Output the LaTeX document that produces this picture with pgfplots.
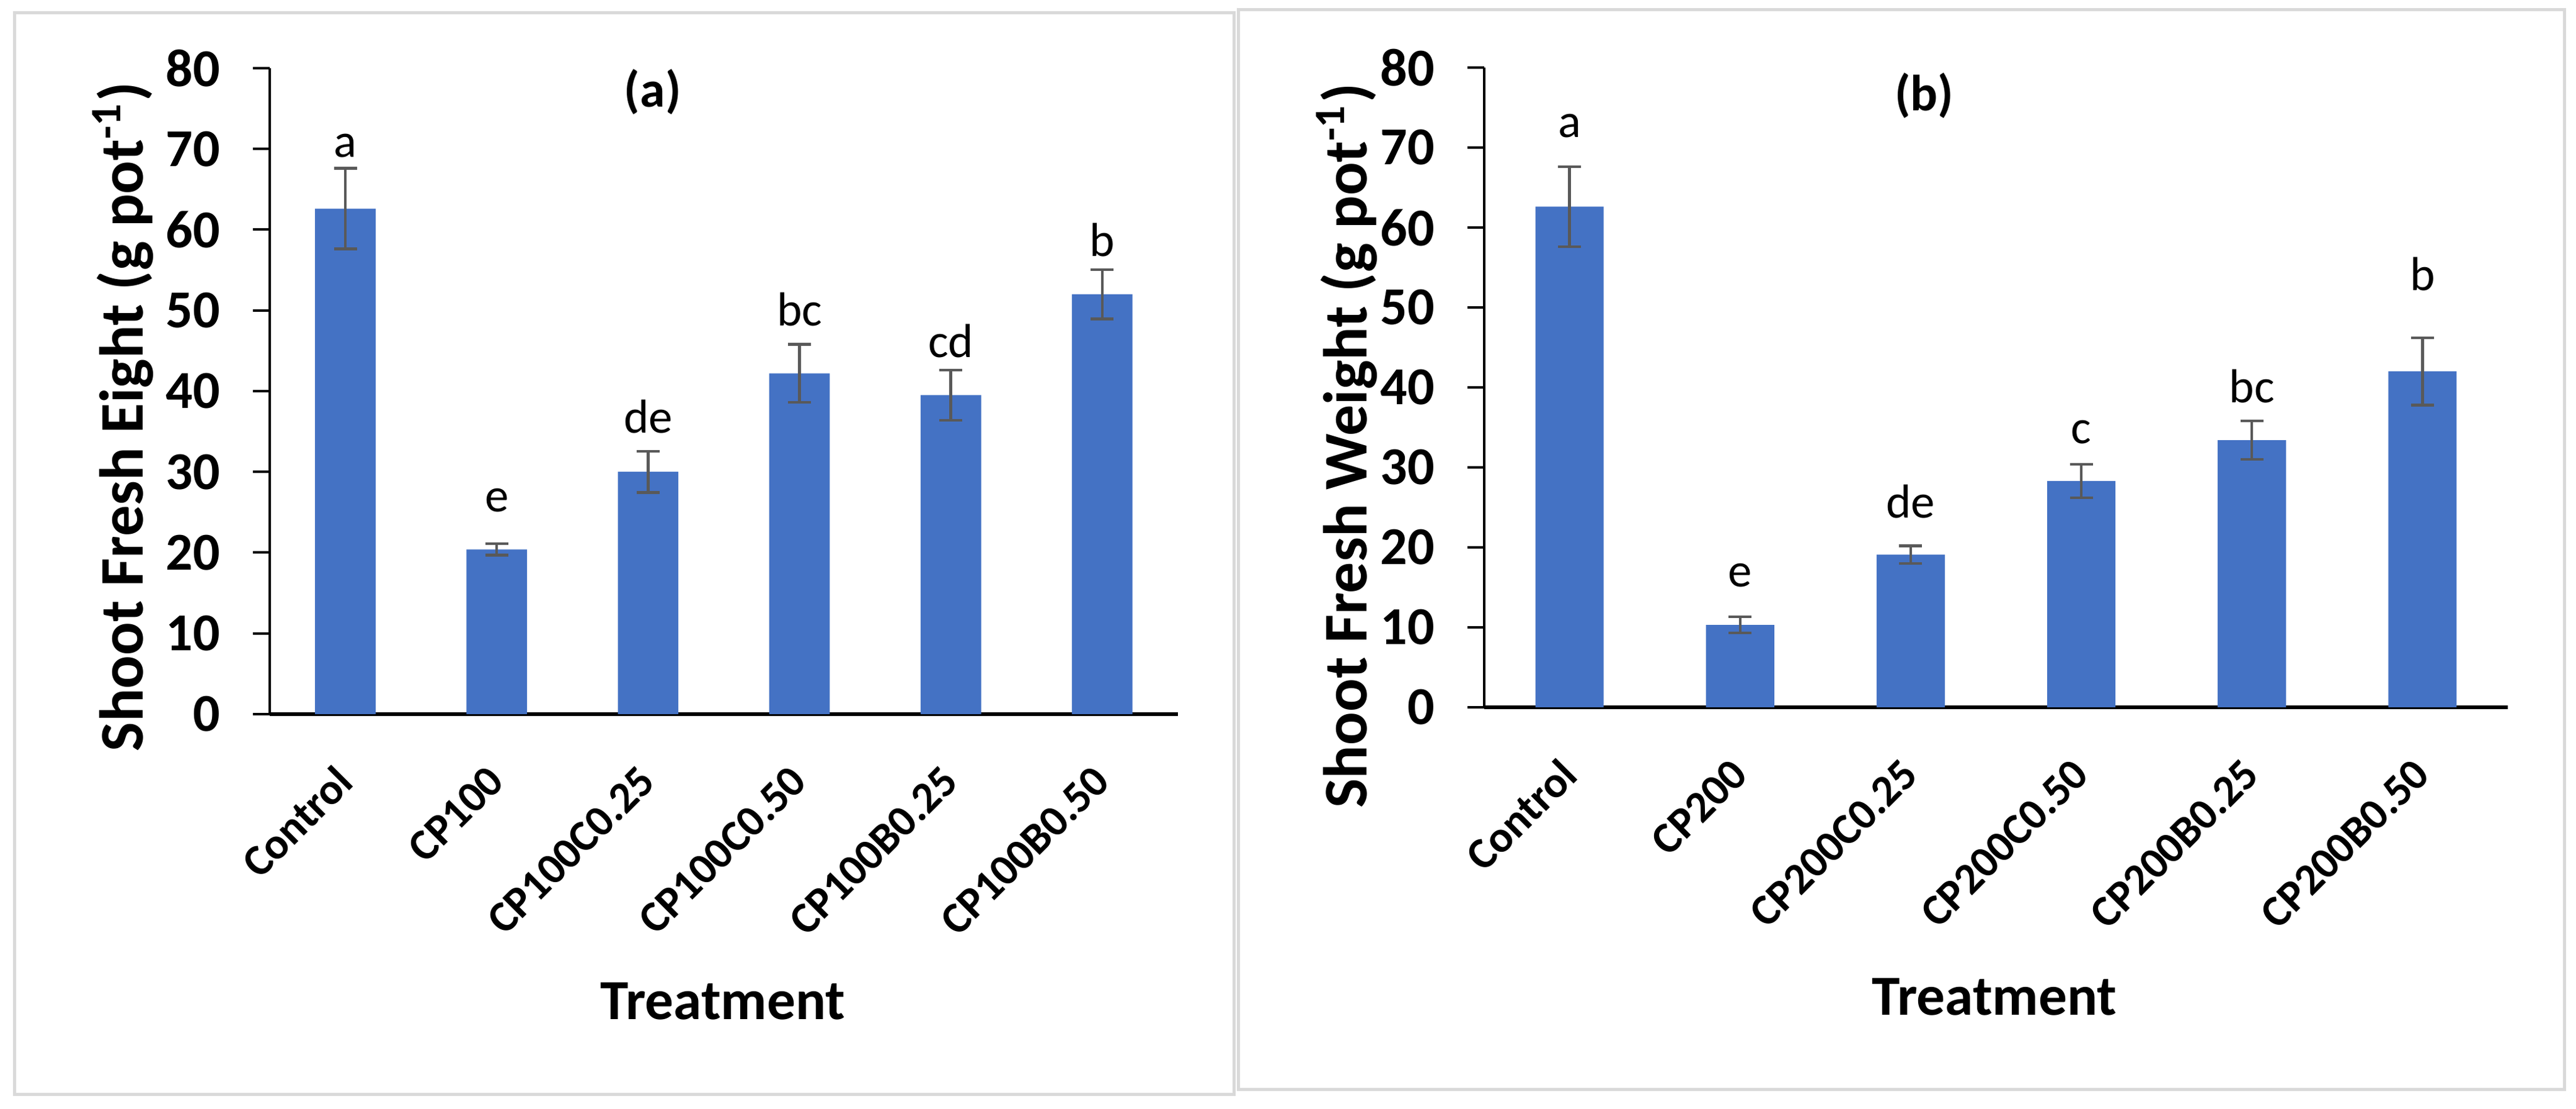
\documentclass[border=0pt]{standalone}
\usepackage{fontspec}
\setmainfont{Carlito}
\usepackage{pgfplots}
\pgfplotsset{compat=1.18}

\definecolor{barblue}{RGB}{68,114,196}
\definecolor{errgray}{RGB}{89,89,89}
\definecolor{framegray}{RGB}{217,217,217}
\newcommand\fs[1]{\fontsize{#1}{#1}\selectfont}

\pgfplotsset{
  panel/.style={
    scale only axis,
    anchor=south west,
    ybar, bar width=0.4,
    xmin=-0.5, xmax=5.5, ymin=0, ymax=80,
    clip=false,
    axis x line*=bottom, axis y line*=left,
    axis line style={-},
    x axis line style={line width=0.6pt},
    y axis line style={line width=0.4pt},
    xtick={0,...,5}, ytick={0,10,...,80},
    tick align=outside, major tick length=2.7pt,
    x tick style={draw=none},
    y tick style={line width=0.4pt, black},
    /pgf/number format/assume math mode=true,
    yticklabel style={anchor=east, inner sep=0pt, font=\bfseries\fs{8.6}},
    yticklabel shift=5.1pt,
    xticklabel style={rotate=45, anchor=east, inner sep=0pt, font=\bfseries\fs{7.1}},
    xticklabel shift=6.8pt,
  },
  errs/.style={
    fill=barblue, draw=none,
    error bars/.cd, y dir=both, y explicit,
    error bar style={draw=errgray, line width=0.45pt},
    error mark options={rotate=90, mark size=1.85pt, draw=errgray, line width=0.45pt},
  },
}
\tikzset{lett/.style={anchor=base, font=\fs{7.7}}}

\begin{document}
\begin{tikzpicture}
\useasboundingbox (0,0) rectangle (415.5pt,178.9pt);

% panel frames
\draw[framegray, line width=0.5pt] (2.3pt,2.3pt) rectangle (199.0pt,176.8pt);
\draw[framegray, line width=0.5pt] (199.7pt,3.1pt) rectangle (413.6pt,177.3pt);

% (a)
\begin{axis}[panel, at={(43.5pt,63.7pt)}, width=146.5pt, height=104.2pt,
    xticklabels={Control, CP100, CP100C0.25, CP100C0.50, CP100B0.25, CP100B0.50}]
  \addplot[errs] coordinates {
    (0,62.6) +- (0,5.0)
    (1,20.4) +- (0,0.7)
    (2,30.0) +- (0,2.55)
    (3,42.2) +- (0,3.6)
    (4,39.5) +- (0,3.1)
    (5,52.0) +- (0,3.05)
  };
  \node[lett] at (axis cs:0,69.0) {a};
  \node[lett] at (axis cs:1,25.1) {e};
  \node[lett] at (axis cs:2,34.8) {de};
  \node[lett] at (axis cs:3,48.1) {bc};
  \node[lett] at (axis cs:4,44.2) {cd};
  \node[lett] at (axis cs:5,56.7) {b};
  \node[anchor=base, font=\bfseries\fs{8.2}] at (axis cs:2.03,75.2) {(a)};
\end{axis}

% (b)
\begin{axis}[panel, at={(239.4pt,64.8pt)}, width=165.1pt, height=103.2pt,
    xticklabels={Control, CP200, CP200C0.25, CP200C0.50, CP200B0.25, CP200B0.50}]
  \addplot[errs] coordinates {
    (0,62.6) +- (0,5.0)
    (1,10.3) +- (0,1.0)
    (2,19.1) +- (0,1.1)
    (3,28.3) +- (0,2.1)
    (4,33.4) +- (0,2.4)
    (5,42.0) +- (0,4.2)
  };
  \node[lett] at (axis cs:0,71.3) {a};
  \node[lett] at (axis cs:1,15.1) {e};
  \node[lett] at (axis cs:2,23.7) {de};
  \node[lett] at (axis cs:3,33.0) {c};
  \node[lett] at (axis cs:4,38.1) {bc};
  \node[lett] at (axis cs:5,52.1) {b};
  \node[anchor=base, font=\bfseries\fs{8.2}] at (axis cs:2.08,74.6) {(b)};
\end{axis}

% axis titles
\node[rotate=90, font=\bfseries\fs{10}] at (19.8pt,111.7pt) {Shoot Fresh Eight (g pot\textsuperscript{-1})};
\node[rotate=90, font=\bfseries\fs{10}] at (217.2pt,107.0pt) {Shoot Fresh Weight (g pot\textsuperscript{-1})};
\node[font=\bfseries\fs{9.15}] at (116.6pt,17.4pt) {Treatment};
\node[font=\bfseries\fs{9.15}] at (321.7pt,18.1pt) {Treatment};
\end{tikzpicture}
\end{document}
